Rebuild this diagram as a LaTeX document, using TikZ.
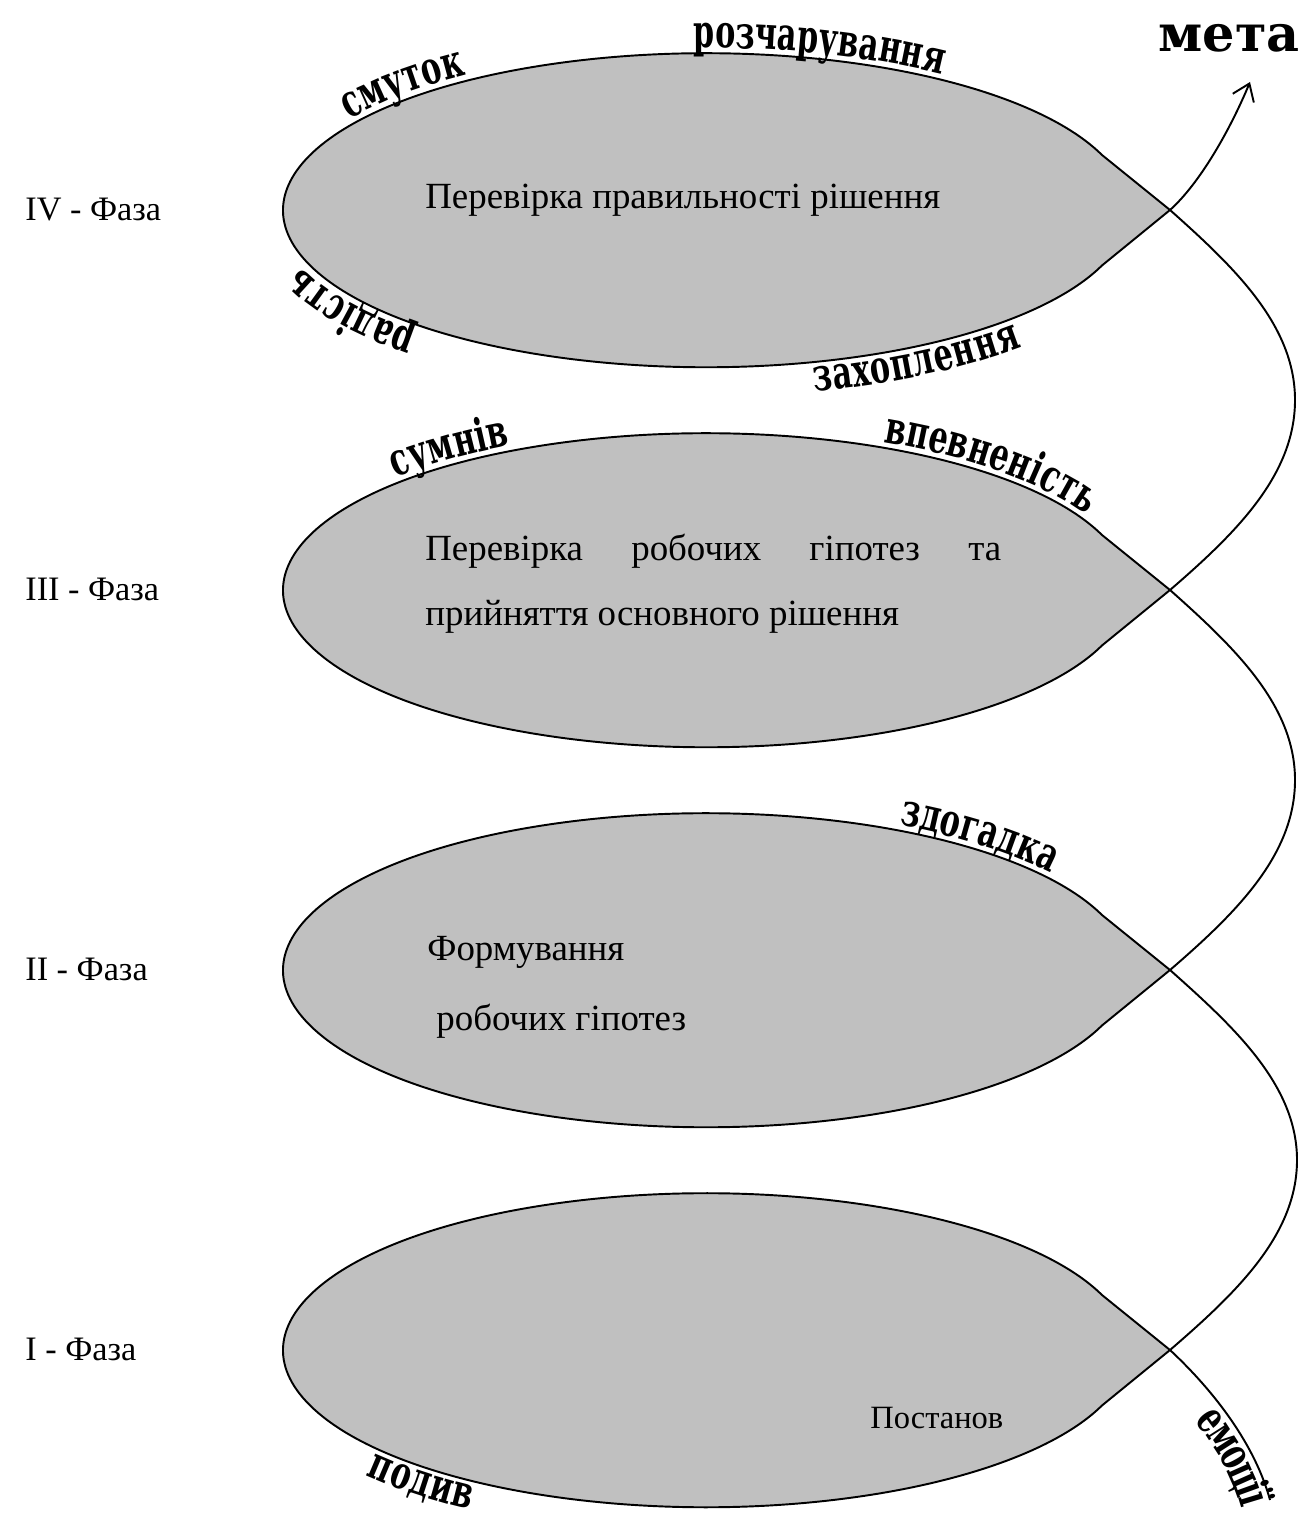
\documentclass[tikz,border=0pt]{standalone}
\usepackage{fontspec}
\setmainfont{Liberation Serif}
\newfontfamily\emofont{DejaVu Serif}[UprightFont=* Bold,FakeStretch=0.66]
\newfontfamily\metafont{DejaVu Serif}[UprightFont=* Bold]
\usetikzlibrary{decorations.text,arrows.meta}
\definecolor{leafgray}{RGB}{192,192,192}
\newcommand\emosize{\emofont\fontsize{26}{26}\selectfont}

\begin{document}
\begin{tikzpicture}[x=0.02cm,y=-0.02cm,
  leaf/.style={fill=leafgray,draw,line width=1.1pt},
  spiral/.style={line width=1.1pt},
  emo/.style={decorate,decoration={text along path,text align=center,raise=#1}},
  emo/.default=3pt,
  phase/.style={anchor=base west,inner sep=0pt,font=\fontsize{19.5}{24}\selectfont},
  inner/.style={anchor=base west,inner sep=0pt,font=\fontsize{21}{24}\selectfont}]
\useasboundingbox (0,0) rectangle (1305,1514);
% crossings of the spiral
\coordinate (x4) at (1170,210);
\coordinate (x3) at (1170,590);
\coordinate (x2) at (1170,970);
\coordinate (x1) at (1170,1350);
\coordinate (tailend) at (1270,1500);
\coordinate (tip) at (1250,82);
% leaves
\filldraw[leaf] (1102,155) arc[start angle=339.4,end angle=20.6,x radius=423,y radius=157] -- (x4) -- cycle;
\filldraw[leaf] (1102,535) arc[start angle=339.4,end angle=20.6,x radius=423,y radius=157] -- (x3) -- cycle;
\filldraw[leaf] (1102,915) arc[start angle=339.4,end angle=20.6,x radius=423,y radius=157] -- (x2) -- cycle;
\filldraw[leaf] (1102,1295) arc[start angle=339.4,end angle=20.6,x radius=423,y radius=157] -- (x1) -- cycle;
% spiral loops
\draw[spiral] (x4) .. controls (1234,267) and (1295,325) .. (1295,400) .. controls (1295,475) and (1236,533) .. (x3);
\draw[spiral] (x3) .. controls (1234,647) and (1295,705) .. (1295,780) .. controls (1295,855) and (1236,913) .. (x2);
\draw[spiral] (x2) .. controls (1234,1027) and (1297,1085) .. (1297,1160) .. controls (1297,1235) and (1236,1293) .. (x1);
\draw[spiral] (x1) .. controls (1215,1392) and (1255,1445) .. (tailend);
\draw[spiral,-{Straight Barb[length=9pt,width=13pt]}] (x4) .. controls (1200,183) and (1230,130) .. (tip);
\node[font=\metafont\fontsize{29}{29}\selectfont] (meta) at (1229,38) {мета};
% phases
\node[phase] (f4) at (25,220) {IV - Фаза};
\node[phase] (f3) at (25,600) {III - Фаза};
\node[phase] (f2) at (25,980) {II - Фаза};
\node[phase] (f1) at (25,1360) {I - Фаза};
% texts inside
\node[inner] (t4) at (425,208) {Перевірка правильності рішення};
\node[inner] (t3a) at (425,560) {\makebox[11.52cm][s]{Перевірка робочих гіпотез та}};
\node[inner] (t3b) at (425,625) {прийняття основного рішення};
\node[inner] (t2a) at (427,960) {Формування};
\node[inner] (t2b) at (436,1030) {робочих гіпотез};
\node[inner,font=\fontsize{18.5}{22}\selectfont] (t1) at (870,1428) {Постанов};
% emotions along the leaves
\path[emo,decoration={text={|\emosize|смуток}}] (706,210) ++(196:423 and 157) arc[start angle=196,end angle=246,x radius=423,y radius=157];
\path[emo,decoration={text={|\emosize|розчарування}}] (706,210) ++(260:423 and 157) arc[start angle=260,end angle=314,x radius=423,y radius=157];
\path[emo=4pt,decoration={text={|\emosize|радість}}] (706,210) ++(124:423 and 157) arc[start angle=124,end angle=178,x radius=423,y radius=157];
\path[emo=-17pt,decoration={text={|\emosize|захоплення}}] (706,210) ++(86:423 and 157) arc[start angle=86,end angle=28,x radius=423,y radius=157];
\path[emo,decoration={text={|\emosize|сумнів}}] (706,590) ++(205:423 and 157) arc[start angle=205,end angle=255,x radius=423,y radius=157];
\path[emo,decoration={text={|\emosize|впевненість}}] (706,590) ++(288:423 and 157) arc[start angle=288,end angle=346,x radius=423,y radius=157];
\path[emo,decoration={text={|\emosize|здогадка}}] (706,970) ++(290:423 and 157) arc[start angle=290,end angle=335,x radius=423,y radius=157];
\path[emo=-18pt,decoration={text={|\emosize|подив}}] (706,1347) ++(155:423 and 157) arc[start angle=155,end angle=113,x radius=423,y radius=157];
\path[emo=-17pt,decoration={text={|\emosize|емоції},text align=right}] (x1) .. controls (1215,1392) and (1255,1445) .. (tailend);
\end{tikzpicture}
\end{document}
